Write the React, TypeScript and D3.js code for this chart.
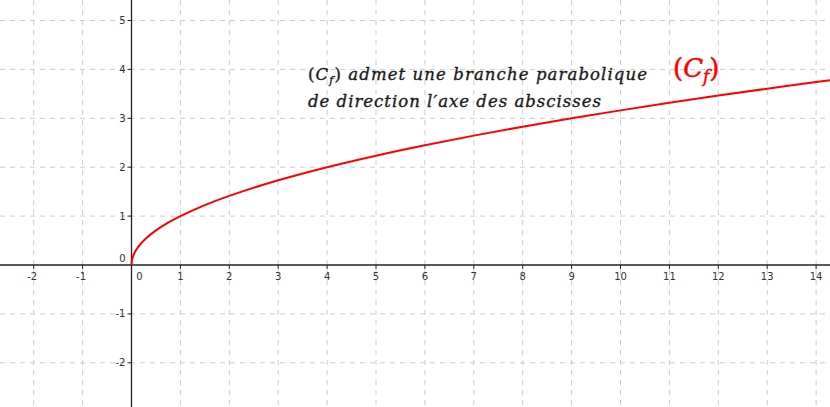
import React from "react";
import * as d3 from "d3";

const W = 830;
const H = 407;

// Curve points (x, y)
const curveX = [0, 0.01, 0.03, 0.06, 0.1, 0.18, 0.3, 0.5, 0.75, 1, 1.5, 2, 3, 4, 5, 6, 7, 8, 9, 10, 11, 12, 13, 14, 14.3];
const curveY = [0, 0.1, 0.17, 0.245, 0.316, 0.424, 0.548, 0.707, 0.866, 1, 1.225, 1.414, 1.732, 2, 2.236, 2.449, 2.646, 2.828, 3, 3.162, 3.317, 3.464, 3.606, 3.742, 3.782];

const xTicks = [-2, -1, 1, 2, 3, 4, 5, 6, 7, 8, 9, 10, 11, 12, 13, 14];
const yTicks = [-2, -1, 1, 2, 3, 4, 5];
const xGrid = [-2, -1, 1, 2, 3, 4, 5, 6, 7, 8, 9, 10, 11, 12, 13, 14];
const yGrid = [-2, -1, 1, 2, 3, 4, 5];

const unit = 48.9;
const ox = 131.5;
const oy = 265;

export default function App() {
  const x = d3.scaleLinear().domain([0, 1]).range([ox, ox + unit]);
  const y = d3.scaleLinear().domain([0, 1]).range([oy, oy - unit]);
  const pts: [number, number][] = curveX.map((v, i) => [v, curveY[i]]);
  const line = d3
    .line<[number, number]>()
    .x((d) => x(d[0]))
    .y((d) => y(d[1]))
    .curve(d3.curveCatmullRom.alpha(0.5));

  const mathFont = "DejaVu Serif";
  const labelFont = "DejaVu Sans";

  return (
    <svg
      width={W}
      height={H}
      style={{ position: "absolute", left: 0, top: 0, background: "#fff" }}
    >
      <rect x={0} y={0} width={W} height={H} fill="#fff" />
      {xGrid.map((v) => (
        <line
          key={"gx" + v}
          x1={x(v)}
          x2={x(v)}
          y1={0}
          y2={H}
          stroke="#cccccc"
          strokeWidth={1}
          strokeDasharray="5,5"
        />
      ))}
      {yGrid.map((v) => (
        <line
          key={"gy" + v}
          x1={0}
          x2={W}
          y1={y(v)}
          y2={y(v)}
          stroke="#cccccc"
          strokeWidth={1}
          strokeDasharray="5,5"
        />
      ))}
      {/* axes */}
      <line x1={0} x2={W} y1={oy} y2={oy} stroke="#222" strokeWidth={1.3} />
      <line x1={ox} x2={ox} y1={0} y2={H} stroke="#222" strokeWidth={1.3} />
      {xTicks.map((v) => (
        <g key={"tx" + v}>
          <line x1={x(v)} x2={x(v)} y1={oy} y2={oy + 4} stroke="#222" strokeWidth={1} />
          <text
            x={x(v) - (v < 0 ? 1.5 : 0)}
            y={oy + 15}
            textAnchor="middle"
            fontFamily={labelFont}
            fontSize={10}
            fill="#333"
          >
            {v}
          </text>
        </g>
      ))}
      {yTicks.map((v) => (
        <g key={"ty" + v}>
          <line x1={ox - 4} x2={ox} y1={y(v)} y2={y(v)} stroke="#222" strokeWidth={1} />
          <text
            x={ox - 6}
            y={y(v) + 3.5}
            textAnchor="end"
            fontFamily={labelFont}
            fontSize={10}
            fill="#333"
          >
            {v}
          </text>
        </g>
      ))}
      <text x={ox - 6} y={oy - 3} textAnchor="end" fontFamily={labelFont} fontSize={10} fill="#333">
        0
      </text>
      <text x={ox + 8} y={oy + 15} textAnchor="middle" fontFamily={labelFont} fontSize={10} fill="#333">
        0
      </text>

      <path d={line(pts) || ""} fill="none" stroke="#ff0000" strokeWidth={2} />

      {/* annotation */}
      <text
        x={308}
        y={80}
        fontFamily={mathFont}
        fontStyle="italic"
        fontSize={16.5}
        fill="#1a1a1a"
        textLength={339}
        lengthAdjust="spacing"
        stroke="#1a1a1a"
        strokeWidth={0.35}
      >
        <tspan fontStyle="normal">(</tspan>C<tspan fontSize={11} dy={4}>f</tspan>
        <tspan dy={-4} fontStyle="normal">)</tspan> admet une branche parabolique
      </text>
      <text
        x={308}
        y={107}
        fontFamily={mathFont}
        fontStyle="italic"
        fontSize={16.5}
        fill="#1a1a1a"
        textLength={293}
        lengthAdjust="spacing"
        stroke="#1a1a1a"
        strokeWidth={0.35}
      >
        de direction l′axe des abscisses
      </text>
      <text
        x={673}
        y={77}
        fontFamily={mathFont}
        fontStyle="italic"
        fontSize={26}
        fill="#ff0000"
        stroke="#ff0000"
        strokeWidth={0.5}
      >
        <tspan fontStyle="normal">(</tspan>C<tspan fontSize={17} dy={5}>f</tspan>
        <tspan dy={-5} fontStyle="normal">)</tspan>
      </text>
    </svg>
  );
}
